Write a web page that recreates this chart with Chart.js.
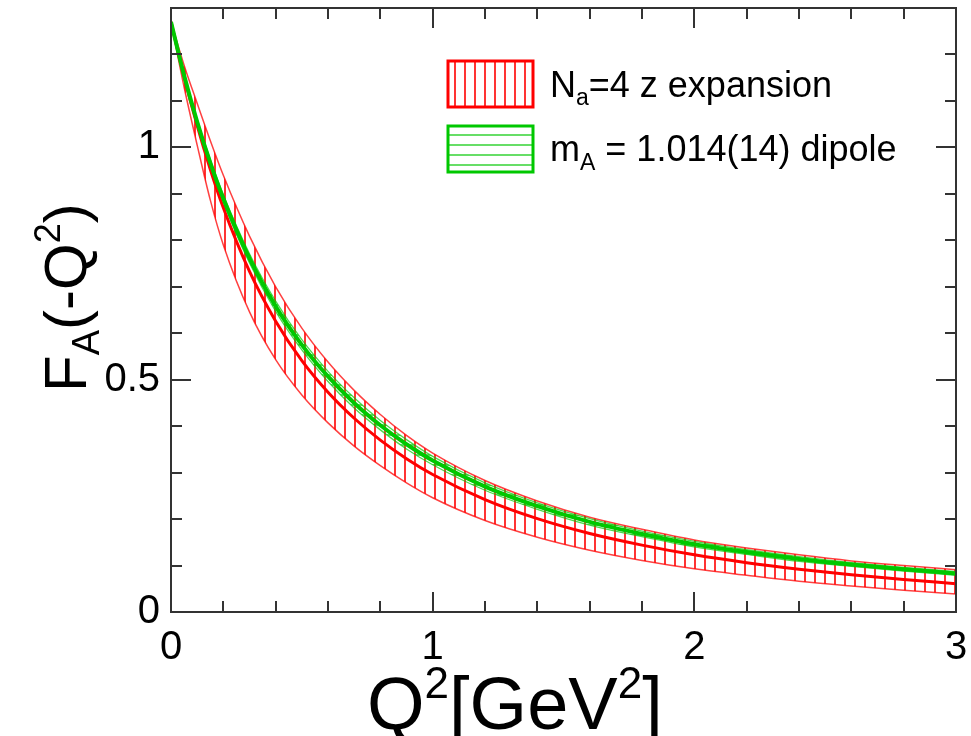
<!DOCTYPE html>
<html>
<head>
<meta charset="utf-8">
<script src="https://cdn.jsdelivr.net/npm/chart.js@4"></script>
<style>
  body { margin: 0; background: #fff; }
  canvas { display: block; }
</style>
</head>
<body>
<canvas id="faChart" width="971" height="736"></canvas>
<script>
// Q^2 grid (GeV^2)
const q2 = [0, 0.05, 0.1, 0.15, 0.2, 0.3, 0.4, 0.5, 0.6, 0.7, 0.8, 0.9, 1.0, 1.2, 1.4, 1.6, 1.8, 2.0, 2.2, 2.4, 2.6, 2.8, 3.0];

// N_a=4 z expansion band (red)
const zCenter = [1.270, 1.152, 1.047, 0.953, 0.870, 0.733, 0.626, 0.541, 0.473, 0.417, 0.370, 0.330, 0.296, 0.242, 0.201, 0.169, 0.144, 0.123, 0.106, 0.092, 0.080, 0.070, 0.061];
const zUpper  = [1.270, 1.177, 1.095, 1.015, 0.940, 0.809, 0.700, 0.611, 0.538, 0.477, 0.425, 0.380, 0.342, 0.283, 0.239, 0.204, 0.178, 0.155, 0.138, 0.123, 0.110, 0.100, 0.091];
const zLower  = [1.270, 1.130, 1.005, 0.887, 0.790, 0.646, 0.543, 0.467, 0.407, 0.357, 0.315, 0.278, 0.246, 0.197, 0.161, 0.133, 0.111, 0.093, 0.079, 0.066, 0.056, 0.047, 0.039];

// m_A = 1.014(14) dipole band (green)
const dipCenter = [1.270, 1.155, 1.055, 0.967, 0.890, 0.761, 0.658, 0.575, 0.507, 0.450, 0.402, 0.361, 0.326, 0.270, 0.228, 0.194, 0.168, 0.146, 0.129, 0.114, 0.102, 0.092, 0.083];
const dipUpper  = [1.270, 1.158, 1.060, 0.974, 0.898, 0.771, 0.669, 0.586, 0.518, 0.461, 0.412, 0.371, 0.335, 0.278, 0.235, 0.201, 0.174, 0.152, 0.134, 0.119, 0.106, 0.096, 0.087];
const dipLower  = [1.270, 1.152, 1.050, 0.960, 0.882, 0.751, 0.647, 0.564, 0.496, 0.439, 0.392, 0.351, 0.317, 0.262, 0.221, 0.187, 0.162, 0.140, 0.124, 0.109, 0.098, 0.088, 0.079];

// axis ticks
const xTicks = [0, 1, 2, 3];
const yTicks = [0, 0.5, 1];
const xMinorStep = 0.2;
const yMinorStep = 0.1;

const RED = '#ff0000';
const GREEN = '#00c800';
const AXIS = '#333333';
const FONT = '"Liberation Sans", Arial, Helvetica, sans-serif';

const canvas = document.getElementById('faChart');
const ctx = canvas.getContext('2d');

// hatch patterns
function makeHatch(color, vertical) {
    const c = document.createElement('canvas');
    c.width = 10; c.height = 10;
    const p = c.getContext('2d');
    p.strokeStyle = color;
    p.lineWidth = vertical ? 1.6 : 1.2;
    p.beginPath();
    if (vertical) { p.moveTo(5, 0); p.lineTo(5, 10); }
    else { p.moveTo(0, 5); p.lineTo(10, 5); }
    p.stroke();
    return ctx.createPattern(c, 'repeat');
}
const redHatch = makeHatch(RED, true);
const greenHatch = makeHatch(GREEN, false);

const pts = arr => q2.map((x, i) => ({ x: x, y: arr[i] }));

function line(label, data, color, width, order, fill, bg) {
    return {
        label: label,
        data: pts(data),
        borderColor: color,
        borderWidth: width,
        pointRadius: 0,
        cubicInterpolationMode: 'monotone',
        fill: fill || false,
        backgroundColor: bg || 'transparent',
        order: order
    };
}

// draw text made of pieces (sub/superscripts)
function drawRich(c, parts, x, y) {
    let cx = x;
    parts.forEach(p => {
        c.font = p.s + 'px ' + FONT;
        c.fillText(p.t, cx, y + (p.dy || 0));
        cx += c.measureText(p.t).width;
    });
}

// scales should not reserve room for overflowing labels
function noPad(s) {
    s.paddingTop = 0; s.paddingBottom = 0;
    s.paddingLeft = 0; s.paddingRight = 0;
}

const framePlugin = {
    id: 'frame',
    afterDatasetsDraw(chart) {
        const { left, right, top, bottom } = chart.chartArea;
        const xs = chart.scales.x, ys = chart.scales.y;
        const c = chart.ctx;
        c.save();
        c.strokeStyle = AXIS;
        c.lineWidth = 2;
        c.strokeRect(left, top, right - left, bottom - top);
        c.beginPath();
        for (let v = 0; v <= 3.0001; v += xMinorStep) {
            const major = Math.abs(v - Math.round(v)) < 1e-6;
            const len = major ? 20 : 11;
            const px = Math.round(xs.getPixelForValue(v));
            c.moveTo(px, bottom); c.lineTo(px, bottom - len);
            c.moveTo(px, top); c.lineTo(px, top + len);
        }
        for (let v = 0; v <= 1.3001; v += yMinorStep) {
            const major = Math.abs(v * 2 - Math.round(v * 2)) < 1e-6;
            const len = major ? 20 : 11;
            const py = Math.round(ys.getPixelForValue(v));
            c.moveTo(left, py); c.lineTo(left + len, py);
            c.moveTo(right, py); c.lineTo(right - len, py);
        }
        c.stroke();
        c.restore();
    },
    afterDraw(chart) {
        const c = chart.ctx;
        c.save();
        c.textBaseline = 'alphabetic';
        c.textAlign = 'left';

        // legend
        const bx = 448, bw = 85, bh = 46;
        [[61, redHatch, RED], [126, greenHatch, GREEN]].forEach(([by, pat, col]) => {
            c.fillStyle = '#fff';
            c.fillRect(bx, by, bw, bh);
            c.fillStyle = pat;
            c.fillRect(bx, by, bw, bh);
            c.strokeStyle = col;
            c.lineWidth = 3;
            c.strokeRect(bx, by, bw, bh);
        });
        c.fillStyle = '#000';
        drawRich(c, [{ t: 'N', s: 36 }, { t: 'a', s: 23, dy: 8 }, { t: '=4 z expansion', s: 36 }], 550, 97);
        drawRich(c, [{ t: 'm', s: 36 }, { t: 'A', s: 23, dy: 9 }, { t: ' = 1.014(14) dipole', s: 36 }], 550, 161);

        // x title
        drawRich(c, [{ t: 'Q', s: 74 }, { t: '2', s: 44, dy: -31 }, { t: '[GeV', s: 74 }, { t: '2', s: 44, dy: -31 }, { t: ']', s: 74 }], 367, 729);

        // y title
        c.translate(86, 392);
        c.rotate(-Math.PI / 2);
        drawRich(c, [{ t: 'F', s: 60 }, { t: 'A', s: 38, dy: 13 }, { t: '(-Q', s: 60 }, { t: '2', s: 36, dy: -26 }, { t: ')', s: 60 }], 0, 0);
        c.restore();
    }
};

new Chart(canvas, {
    type: 'line',
    data: {
        datasets: [
            line('z upper', zUpper, 'rgba(255,0,0,0.75)', 1.5, 6, '+1', redHatch),
            line('z lower', zLower, 'rgba(255,0,0,0.75)', 1.5, 5),
            line('z expansion', zCenter, RED, 3, 4),
            line('dipole upper', dipUpper, 'rgba(0,200,0,0.7)', 1.3, 3, '+1', greenHatch),
            line('dipole lower', dipLower, 'rgba(0,200,0,0.7)', 1.3, 2),
            line('dipole', dipCenter, GREEN, 4, 1)
        ]
    },
    options: {
        responsive: false,
        animation: false,
        devicePixelRatio: 1,
        layout: { padding: { top: 8, right: 15, left: 0, bottom: 0 } },
        plugins: {
            legend: { display: false },
            tooltip: { enabled: false }
        },
        scales: {
            x: {
                type: 'linear',
                min: 0, max: 3,
                grid: { display: false, drawTicks: false },
                border: { display: false },
                afterBuildTicks: s => { s.ticks = xTicks.map(v => ({ value: v })); },
                afterFit: s => { s.height = 124; noPad(s); },
                ticks: {
                    padding: 12,
                    color: '#000',
                    maxRotation: 0,
                    font: { family: FONT, size: 40 },
                    callback: v => String(v)
                }
            },
            y: {
                type: 'linear',
                min: 0, max: 1.3,
                grid: { display: false, drawTicks: false },
                border: { display: false },
                afterBuildTicks: s => { s.ticks = yTicks.map(v => ({ value: v })); },
                afterFit: s => { s.width = 171; noPad(s); },
                ticks: {
                    padding: 11,
                    color: '#000',
                    font: { family: FONT, size: 40 },
                    callback: v => String(v)
                }
            }
        }
    },
    plugins: [framePlugin]
});
</script>
</body>
</html>
